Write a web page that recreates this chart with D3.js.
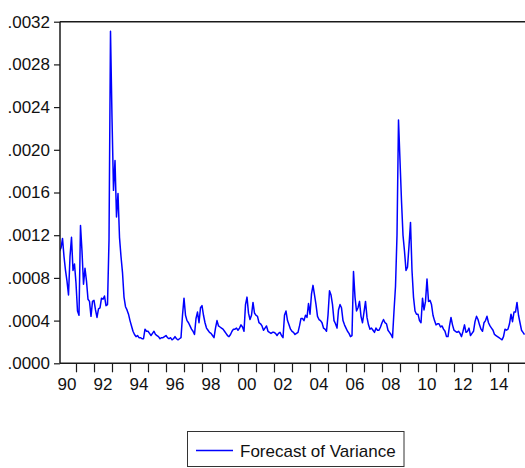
<!DOCTYPE html>
<html>
<head>
<meta charset="utf-8">
<script src="https://cdn.jsdelivr.net/npm/d3@7"></script>
<style>
  html, body { margin: 0; padding: 0; background: #fff; }
  svg { display: block; font-family: "Liberation Sans", Arial, sans-serif; }
</style>
</head>
<body>
<svg id="chart" width="525" height="468"></svg>
<script>
// ---- data (monthly, starting 1990M2) ----
const startYear = 1990;
const startMonth = 2;
const seriesName = "Forecast of Variance";
const variance = [
  // 1990 (Feb-Dec)
  .00105, .00108, .00117, .00100, .00087, .00077, .00064, .00100, .00118, .00087, .00093,
  // 1991
  .00075, .00049, .00045, .00129, .00105, .00074, .00089, .00077, .00060, .00058, .00044, .00058,
  // 1992
  .00059, .00050, .00043, .00051, .00052, .00061, .00060, .00063, .00054, .00055, .00115, .00311,
  // 1993
  .00230, .00162, .00190, .00137, .00159, .00118, .00100, .00085, .00062, .00053, .00050, .00046,
  // 1994
  .00040, .00035, .00030, .00027, .00025, .00026, .00024, .00024, .00023, .00023, .00032, .00030,
  // 1995
  .00030, .00028, .00026, .00028, .00030, .00027, .00026, .00025, .00023, .00024, .00024, .00025,
  // 1996
  .00026, .00024, .00023, .00024, .00022, .00023, .00025, .00023, .00022, .00023, .00024, .00045,
  // 1997
  .00061, .00045, .00040, .00038, .00035, .00032, .00030, .00027, .00042, .00048, .00038, .00052,
  // 1998
  .00054, .00045, .00038, .00033, .00031, .00029, .00028, .00026, .00024, .00033, .00040, .00035,
  // 1999
  .00034, .00033, .00032, .00030, .00028, .00026, .00025, .00027, .00030, .00032, .00032, .00033,
  // 2000
  .00031, .00033, .00036, .00034, .00030, .00055, .00062, .00047, .00041, .00045, .00057, .00047,
  // 2001
  .00045, .00044, .00038, .00037, .00035, .00031, .00033, .00035, .00030, .00029, .00028, .00029,
  // 2002
  .00029, .00028, .00026, .00028, .00029, .00026, .00024, .00045, .00049, .00040, .00036, .00032,
  // 2003
  .00030, .00029, .00027, .00028, .00029, .00035, .00042, .00042, .00040, .00045, .00043, .00056,
  // 2004
  .00046, .00065, .00073, .00064, .00055, .00044, .00041, .00040, .00038, .00033, .00032, .00030,
  // 2005
  .00045, .00068, .00064, .00055, .00040, .00037, .00033, .00050, .00055, .00052, .00040, .00036,
  // 2006
  .00033, .00030, .00028, .00025, .00026, .00086, .00062, .00049, .00052, .00058, .00044, .00038,
  // 2007
  .00048, .00058, .00043, .00036, .00032, .00033, .00031, .00029, .00033, .00031, .00031, .00034,
  // 2008
  .00038, .00041, .00038, .00037, .00031, .00029, .00027, .00024, .00049, .00072, .00120, .00228,
  // 2009
  .00190, .00152, .00120, .00105, .00087, .00090, .00110, .00132, .00087, .00062, .00049, .00046,
  // 2010
  .00046, .00040, .00038, .00061, .00050, .00058, .00079, .00058, .00059, .00055, .00045, .00040,
  // 2011
  .00036, .00037, .00037, .00034, .00035, .00032, .00030, .00025, .00025, .00035, .00043, .00036,
  // 2012
  .00031, .00030, .00029, .00030, .00028, .00025, .00030, .00036, .00029, .00030, .00033, .00026,
  // 2013
  .00028, .00030, .00039, .00044, .00041, .00036, .00032, .00030, .00038, .00040, .00044, .00038,
  // 2014
  .00035, .00033, .00031, .00027, .00026, .00025, .00024, .00023, .00022, .00025, .00032, .00031,
  // 2015
  .00032, .00037, .00046, .00039, .00048, .00048, .00057, .00045, .00038, .00031, .00029, .00027
];
const yTickValues = [0, .0004, .0008, .0012, .0016, .0020, .0024, .0028, .0032];
const yTickLabels = [".0000", ".0004", ".0008", ".0012", ".0016", ".0020", ".0024", ".0028", ".0032"];
const xTickYears = d3.range(1991, 2016);
const xLabelYears = [1990, 1992, 1994, 1996, 1998, 2000, 2002, 2004, 2006, 2008, 2010, 2012, 2014];
const xLabelTexts = ["90", "92", "94", "96", "98", "00", "02", "04", "06", "08", "10", "12", "14"];

// ---- layout ----
const svg = d3.select("#chart");
const plotLeft = 60, plotRight = 525, plotTop = 21.7, plotBottom = 363.3;
const x = d3.scaleLinear().domain([1990, 2016]).range([58, 526]);
const y = d3.scaleLinear().domain([0, .0032]).range([plotBottom, plotTop]);
const axisColor = "#1a1a1a";
const fontSize = 17;

const data = variance.map((v, i) => ({ t: startYear + (startMonth - 1 + i) / 12, v }));

// clip
svg.append("defs").append("clipPath").attr("id", "clip")
  .append("rect").attr("x", plotLeft).attr("y", 0).attr("width", plotRight - plotLeft).attr("height", plotBottom);

// line
svg.append("path")
  .datum(data)
  .attr("clip-path", "url(#clip)")
  .attr("fill", "none")
  .attr("stroke", "#0000ff")
  .attr("stroke-width", 1.5)
  .attr("stroke-linejoin", "round")
  .attr("d", d3.line().x(d => x(d.t)).y(d => y(d.v)));

// top frame line
svg.append("line").attr("x1", plotLeft).attr("x2", plotRight).attr("y1", plotTop).attr("y2", plotTop)
  .attr("stroke", axisColor).attr("stroke-width", 1.5);

// y axis
const yAxis = d3.axisLeft(y).tickValues(yTickValues).tickSize(6).tickPadding(4)
  .tickFormat((d, i) => yTickLabels[i]);
const gy = svg.append("g").attr("transform", `translate(${plotLeft},0)`).call(yAxis);
gy.select(".domain").attr("d", `M0,${plotTop}V${plotBottom}`).attr("stroke", axisColor).attr("stroke-width", 1.5);
gy.selectAll(".tick line").attr("stroke", axisColor).attr("stroke-width", 1.2);
gy.selectAll(".tick text").attr("fill", "#111").attr("font-size", fontSize)
  .attr("font-family", "'Liberation Sans', Arial, sans-serif");

// x axis
const xAxis = d3.axisBottom(x).tickValues(xTickYears).tickSize(9).tickFormat("");
const gx = svg.append("g").attr("transform", `translate(0,${plotBottom})`).call(xAxis);
gx.select(".domain").attr("d", `M${plotLeft},0H${plotRight}`).attr("stroke", axisColor).attr("stroke-width", 1.5);
gx.selectAll(".tick line").attr("stroke", axisColor).attr("stroke-width", 1.2);

svg.append("g").selectAll("text").data(xLabelYears).join("text")
  .attr("x", d => x(d + 0.5))
  .attr("y", 390)
  .attr("text-anchor", "middle")
  .attr("font-size", fontSize)
  .attr("fill", "#111")
  .text((d, i) => xLabelTexts[i]);

// legend
const lg = svg.append("g");
lg.append("rect").attr("x", 187.5).attr("y", 431.5).attr("width", 216.5).attr("height", 35)
  .attr("fill", "#fff").attr("stroke", "#333").attr("stroke-width", 1);
lg.append("line").attr("x1", 196).attr("x2", 233).attr("y1", 450.5).attr("y2", 450.5)
  .attr("stroke", "#0000ff").attr("stroke-width", 1.5);
lg.append("text").attr("x", 240).attr("y", 456.5).attr("font-size", fontSize).attr("fill", "#111")
  .text(seriesName);
</script>
</body>
</html>
